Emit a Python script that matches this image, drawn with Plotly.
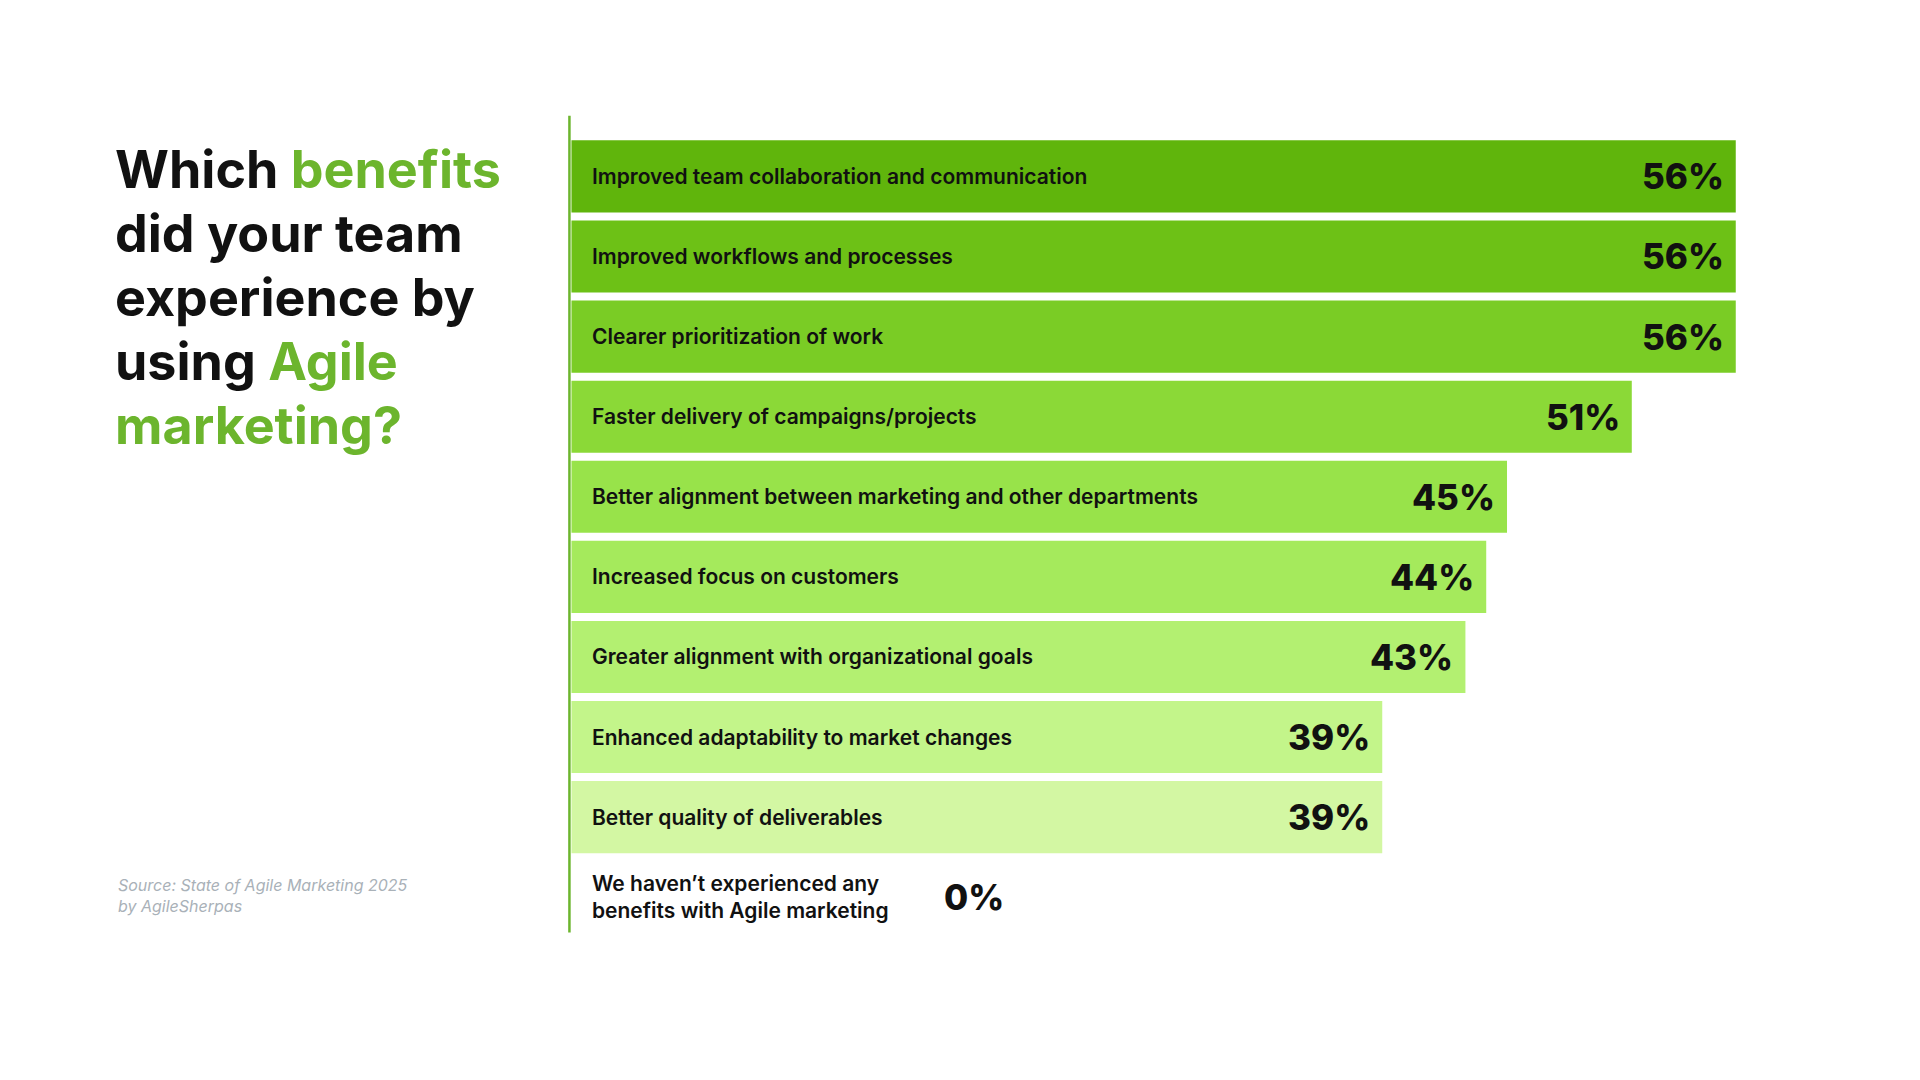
import plotly.graph_objects as go

categories = [
    "Improved team collaboration and communication",
    "Improved workflows and processes",
    "Clearer prioritization of work",
    "Faster delivery of campaigns/projects",
    "Better alignment between marketing and other departments",
    "Increased focus on customers",
    "Greater alignment with organizational goals",
    "Enhanced adaptability to market changes",
    "Better quality of deliverables",
    "We haven’t experienced any<br>benefits with Agile marketing",
]
values = [56, 56, 56, 51, 45, 44, 43, 39, 39, 0]
colors = ["#60b50c", "#6dc116", "#7acc25", "#8bd937", "#98e34a", "#a5ea5c",
          "#b3f071", "#c3f58a", "#d3f7a3", "#e4fac4"]

W, H = 1568, 882
def px(x): return x / W
def py(y): return 1 - y / H

FONT = "Inter"
x0, x1 = px(460), 1.0
R = 56 * (x1 - x0) / (px(1411) - x0)
ypos = list(range(len(categories)))

fig = go.Figure(go.Bar(
    x=values, y=ypos, orientation="h", marker_color=colors,
    marker_line_width=0, width=0.9, hoverinfo="skip"))

ann = []
for i, (c, v) in enumerate(zip(categories, values)):
    ann.append(dict(x=px(475), xref="paper", y=i, yref="y", text=c, showarrow=False,
                    xanchor="left", align="left",
                    font=dict(family=FONT, size=21, color="#111", weight=600)))
    if v > 0:
        ann.append(dict(x=v, xref="x", y=i, yref="y", text=f"{v}%", showarrow=False,
                        xanchor="right", xshift=-10,
                        font=dict(family=FONT, size=35, color="#111", weight=800)))
    else:
        ann.append(dict(x=px(763), xref="paper", y=i, yref="y", text=f"{v}%", showarrow=False,
                        xanchor="left",
                        font=dict(family=FONT, size=35, color="#111", weight=800)))

G = "#6cb52d"
title_lines = [
    f"Which <span style='color:{G}'>benefits</span>",
    "did your team",
    "experience by",
    f"using <span style='color:{G}'>Agile</span>",
    f"<span style='color:{G}'>marketing?</span>",
]
for k, t in enumerate(title_lines):
    ann.append(dict(x=px(86), xref="paper", y=py(132 + 52.3 * k), yref="paper", text=t,
                    showarrow=False, xanchor="left", yanchor="middle",
                    font=dict(family=FONT, size=52, color="#111", weight=700)))
ann.append(dict(x=px(88), xref="paper", y=py(725), yref="paper",
                text="<i>Source: State of Agile Marketing 2025<br>by AgileSherpas</i>",
                showarrow=False, xanchor="left", align="left", yanchor="middle",
                font=dict(family=FONT, size=16, color="#a9b1b8")))

fig.update_layout(
    width=1920, height=1080, paper_bgcolor="white", plot_bgcolor="white",
    margin=dict(l=0, r=0, t=0, b=0), showlegend=False,
    xaxis=dict(domain=[x0, x1], range=[0, R], visible=False),
    yaxis=dict(domain=[py(755), py(88)], range=[9.44, -0.757], visible=False),
    annotations=ann,
    shapes=[dict(type="line", xref="paper", yref="paper", x0=px(458.5), x1=px(458.5),
                 y0=py(755), y1=py(88), line=dict(color=G, width=2.5))],
)
fig.write_html("out.html")
